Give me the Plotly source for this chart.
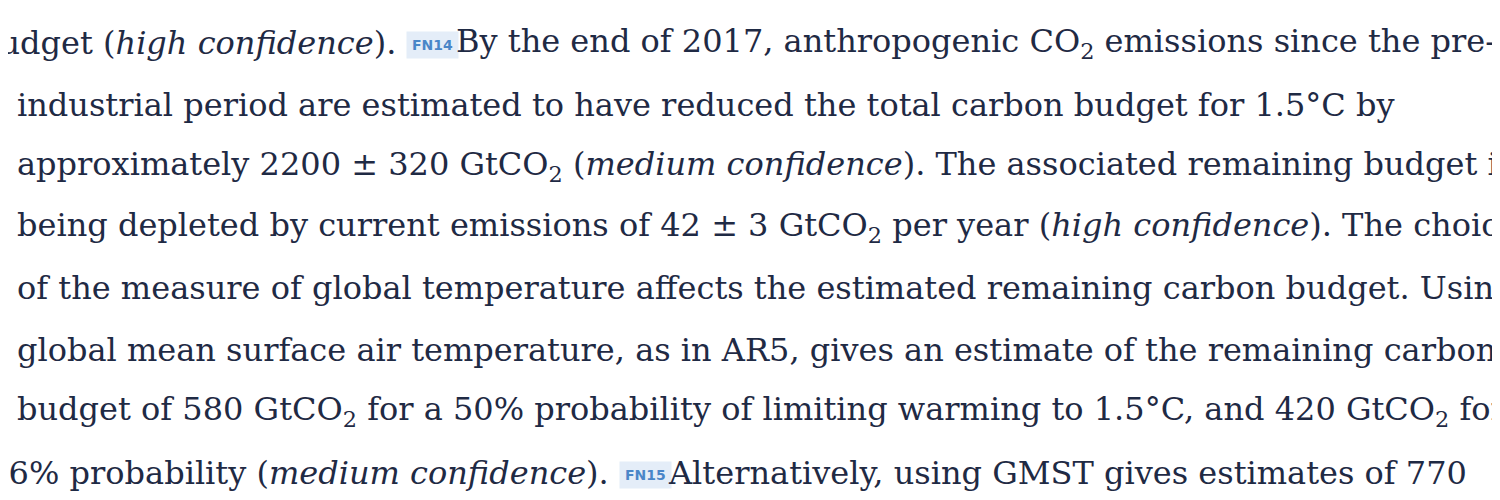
import plotly.graph_objects as go

lines = [
    "budget (<i>high confidence</i>).",
    "industrial period are estimated to have reduced the total carbon budget for 1.5°C by",
    "approximately 2200 ± 320 GtCO<sub>2</sub> (<i>medium confidence</i>). The associated remaining budget is",
    "being depleted by current emissions of 42 ± 3 GtCO<sub>2</sub> per year (<i>high confidence</i>). The choice",
    "of the measure of global temperature affects the estimated remaining carbon budget. Using",
    "global mean surface air temperature, as in AR5, gives an estimate of the remaining carbon",
    "budget of 580 GtCO<sub>2</sub> for a 50% probability of limiting warming to 1.5°C, and 420 GtCO<sub>2</sub> for",
    "a 66% probability (<i>medium confidence</i>).",
]
tails = {0: "By the end of 2017, anthropogenic CO<sub>2</sub> emissions since the pre-",
         7: "Alternatively, using GMST gives estimates of 770"}
badges = {0: "FN14", 7: "FN15"}
badge_x = {0: 424, 7: 637}
tail_x = {0: 456, 7: 668}
line_y = [35, 97, 158, 219, 280, 342, 403, 465]

FONT = "DejaVu Serif"
COLOR = "#1f2a44"
SIZE = 32

fig = go.Figure()
ann = []
for i, t in enumerate(lines):
    if i in badges:
        ann.append(dict(x=badge_x[i] - 34, y=line_y[i], text=t, xanchor="right"))
        ann.append(dict(x=badge_x[i], y=line_y[i] + 2, text="<b>" + badges[i] + "</b>", xanchor="center",
                        font=dict(family="DejaVu Sans", size=14, color="#4a86c8"),
                        bgcolor="#e4edf8", borderpad=5))
        ann.append(dict(x=tail_x[i] - 10, y=line_y[i], text=tails[i], xanchor="left"))
    else:
        ann.append(dict(x=7, y=line_y[i], text=t, xanchor="left"))
for a in ann:
    a.setdefault("font", dict(family=FONT, size=SIZE, color=COLOR))
    a.update(xref="x", yref="y", showarrow=False, yanchor="middle")
fig.update_layout(
    annotations=ann, width=1500, height=500,
    margin=dict(l=0, r=0, t=0, b=0),
    paper_bgcolor="white", plot_bgcolor="white",
    xaxis=dict(range=[0, 1500], visible=False, fixedrange=True),
    yaxis=dict(range=[500, 0], visible=False, fixedrange=True),
)
fig.write_html("out.html")
